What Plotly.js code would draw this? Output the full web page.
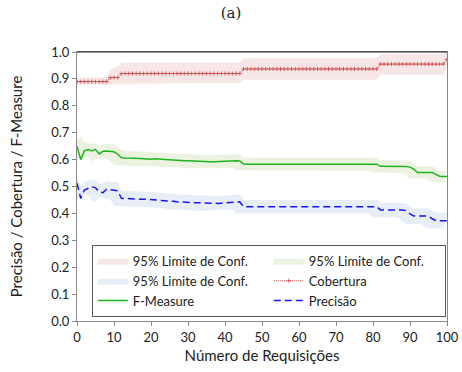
<!DOCTYPE html>
<html>
<head>
<meta charset="utf-8">
<script src="https://cdn.plot.ly/plotly-3.0.1.min.js"></script>
<style>html,body{margin:0;padding:0;background:#fff;}#chart{width:462px;height:372px;}</style>
</head>
<body>
<div id="chart"></div>
<script>
const reqs = [0,1,2,3,4,5,6,7,8,9,10,11,12,13,14,15,16,17,18,19,20,21,22,23,24,25,26,27,28,29,30,31,32,33,34,35,36,37,38,39,40,41,42,43,44,45,46,47,48,49,50,51,52,53,54,55,56,57,58,59,60,61,62,63,64,65,66,67,68,69,70,71,72,73,74,75,76,77,78,79,80,81,82,83,84,85,86,87,88,89,90,91,92,93,94,95,96,97,98,99,100];

const cobertura = [0.89,0.89,0.89,0.89,0.89,0.89,0.89,0.89,0.89,0.905,0.905,0.905,
0.92,0.92,0.92,0.92,0.92,0.92,0.92,0.92,0.92,0.92,0.92,0.92,0.92,0.92,0.92,0.92,0.92,0.92,0.92,0.92,0.92,0.92,0.92,0.92,0.92,0.92,0.92,0.92,0.92,0.92,0.92,0.92,0.92,
0.937,0.937,0.937,0.937,0.937,0.937,0.937,0.937,0.937,0.937,0.937,0.937,0.937,0.937,0.937,0.937,0.937,0.937,0.937,0.937,0.937,0.937,0.937,0.937,0.937,0.937,0.937,0.937,0.937,0.937,0.937,0.937,0.937,0.937,0.937,0.937,0.937,
0.955,0.955,0.955,0.955,0.955,0.955,0.955,0.955,0.955,0.955,0.955,0.955,0.955,0.955,0.955,0.955,0.955,0.955,0.972];

const coberturaUpper = [0.905,0.905,0.905,0.905,0.905,0.905,0.905,0.905,0.905,0.935,0.94,0.945,
0.96,0.96,0.96,0.96,0.96,0.96,0.96,0.96,0.96,0.96,0.96,0.96,0.96,0.96,0.96,0.96,0.96,0.96,0.96,0.96,0.96,0.96,0.96,0.96,0.96,0.96,0.96,0.96,0.96,0.96,0.96,0.96,0.96,
0.977,0.977,0.977,0.977,0.977,0.977,0.977,0.977,0.977,0.977,0.977,0.977,0.977,0.977,0.977,0.977,0.977,0.977,0.977,0.977,0.977,0.977,0.977,0.977,0.977,0.977,0.977,0.977,0.977,0.977,0.977,0.977,0.977,0.977,0.977,0.977,0.977,
0.993,0.993,0.993,0.993,0.993,0.993,0.993,0.993,0.993,0.993,0.993,0.993,0.993,0.993,0.993,0.993,0.993,0.993,1.0];

const coberturaLower = [0.878,0.878,0.878,0.878,0.878,0.878,0.878,0.878,0.878,0.878,0.88,0.882,
0.884,0.884,0.884,0.884,0.884,0.884,0.884,0.884,0.884,0.884,0.884,0.884,0.884,0.884,0.884,0.884,0.884,0.884,0.884,0.884,0.884,0.884,0.884,0.884,0.884,0.884,0.884,0.884,0.884,0.884,0.884,0.884,0.884,
0.897,0.897,0.897,0.897,0.897,0.897,0.897,0.897,0.897,0.897,0.897,0.897,0.897,0.897,0.897,0.897,0.897,0.897,0.897,0.897,0.897,0.897,0.897,0.897,0.897,0.897,0.897,0.897,0.897,0.897,0.897,0.897,0.897,0.897,0.897,0.897,0.897,
0.915,0.915,0.915,0.915,0.915,0.915,0.915,0.915,0.915,0.915,0.915,0.915,0.915,0.915,0.915,0.915,0.915,0.915,0.94];

const fmeasure = [0.650,0.600,0.633,0.637,0.632,0.638,0.621,0.631,0.632,0.630,0.629,0.620,
0.607,0.606,0.606,0.605,0.605,0.604,0.603,0.602,0.601,0.603,0.602,0.600,0.600,0.599,0.598,0.597,0.597,0.596,0.596,0.595,0.594,0.593,0.593,0.592,0.592,0.592,0.593,0.594,0.594,0.594,0.595,0.596,0.595,
0.584,0.583,0.583,0.583,0.583,0.583,0.583,0.583,0.583,0.583,0.583,0.583,0.583,0.583,0.584,0.585,0.585,0.585,0.585,0.584,0.584,0.583,0.583,0.583,0.583,0.583,0.583,0.583,0.583,0.583,0.583,0.583,0.583,0.583,0.583,0.583,0.583,
0.575,0.575,0.575,0.575,0.575,0.575,0.574,0.574,0.572,0.565,0.552,0.552,0.552,0.552,0.552,0.545,0.538,0.537,0.537,0.537];

const fmeasureUpper = [0.670,0.685,0.665,0.662,0.658,0.660,0.652,0.656,0.658,0.657,0.656,0.648,
0.636,0.634,0.633,0.632,0.631,0.630,0.629,0.628,0.627,0.628,0.627,0.625,0.625,0.624,0.623,0.622,0.622,0.621,0.621,0.620,0.619,0.618,0.618,0.617,0.617,0.617,0.618,0.619,0.619,0.619,0.620,0.621,0.620,
0.608,0.607,0.607,0.607,0.607,0.607,0.607,0.607,0.607,0.607,0.607,0.607,0.607,0.607,0.608,0.609,0.609,0.609,0.609,0.608,0.608,0.607,0.607,0.607,0.607,0.607,0.607,0.607,0.607,0.607,0.607,0.607,0.607,0.607,0.607,0.607,0.607,
0.598,0.598,0.598,0.598,0.598,0.598,0.597,0.597,0.595,0.588,0.575,0.575,0.575,0.575,0.575,0.567,0.560,0.559,0.559,0.559];

const fmeasureLower = [0.625,0.569,0.600,0.610,0.605,0.612,0.592,0.604,0.606,0.604,0.603,0.594,
0.580,0.579,0.579,0.578,0.578,0.577,0.576,0.575,0.574,0.576,0.575,0.574,0.574,0.573,0.572,0.571,0.571,0.570,0.570,0.569,0.568,0.567,0.567,0.566,0.566,0.566,0.567,0.568,0.568,0.568,0.569,0.570,0.569,
0.560,0.559,0.559,0.559,0.559,0.559,0.559,0.559,0.559,0.559,0.559,0.559,0.559,0.559,0.560,0.561,0.561,0.561,0.561,0.560,0.560,0.559,0.559,0.559,0.559,0.559,0.559,0.559,0.559,0.559,0.559,0.559,0.559,0.559,0.559,0.559,0.559,
0.552,0.552,0.552,0.552,0.552,0.552,0.551,0.551,0.549,0.542,0.530,0.530,0.530,0.530,0.530,0.523,0.517,0.516,0.516,0.516];

const precisao = [0.512,0.456,0.487,0.493,0.499,0.495,0.480,0.477,0.490,0.488,0.485,0.484,
0.456,0.455,0.454,0.454,0.453,0.453,0.453,0.452,0.452,0.451,0.450,0.450,0.449,0.447,0.445,0.443,0.442,0.442,0.441,0.441,0.440,0.440,0.439,0.438,0.437,0.437,0.437,0.438,0.439,0.440,0.441,0.442,0.443,
0.425,0.425,0.425,0.425,0.425,0.425,0.425,0.425,0.425,0.425,0.425,0.425,0.425,0.425,0.425,0.425,0.425,0.425,0.425,0.425,0.425,0.425,0.425,0.425,0.425,0.425,0.425,0.425,0.425,0.425,0.425,0.425,0.425,0.425,0.425,0.425,0.425,
0.413,0.413,0.413,0.413,0.413,0.413,0.413,0.410,0.398,0.390,0.390,0.390,0.390,0.390,0.380,0.373,0.373,0.373,0.373,0.373];

const precisaoUpper = [0.535,0.500,0.518,0.522,0.526,0.523,0.512,0.510,0.520,0.519,0.517,0.516,
0.484,0.483,0.482,0.482,0.481,0.481,0.481,0.480,0.480,0.479,0.478,0.478,0.477,0.475,0.473,0.471,0.470,0.470,0.469,0.469,0.468,0.468,0.467,0.466,0.465,0.465,0.465,0.466,0.467,0.468,0.469,0.470,0.471,
0.450,0.450,0.450,0.450,0.450,0.450,0.450,0.450,0.450,0.450,0.450,0.450,0.450,0.450,0.450,0.450,0.450,0.450,0.450,0.450,0.450,0.450,0.450,0.450,0.450,0.450,0.450,0.450,0.450,0.450,0.450,0.450,0.450,0.450,0.450,0.450,0.450,
0.440,0.440,0.440,0.440,0.440,0.440,0.440,0.437,0.426,0.419,0.419,0.419,0.419,0.419,0.409,0.402,0.402,0.402,0.402,0.402];

const precisaoLower = [0.488,0.413,0.455,0.463,0.470,0.467,0.449,0.445,0.460,0.458,0.454,0.452,
0.428,0.427,0.426,0.426,0.425,0.425,0.425,0.424,0.424,0.423,0.422,0.422,0.421,0.419,0.417,0.415,0.414,0.414,0.413,0.413,0.412,0.412,0.411,0.410,0.409,0.409,0.409,0.410,0.411,0.412,0.413,0.414,0.415,
0.400,0.400,0.400,0.400,0.400,0.400,0.400,0.400,0.400,0.400,0.400,0.400,0.400,0.400,0.400,0.400,0.400,0.400,0.400,0.400,0.400,0.400,0.400,0.400,0.400,0.400,0.400,0.400,0.400,0.400,0.400,0.400,0.400,0.400,0.400,0.400,0.400,
0.386,0.386,0.386,0.386,0.386,0.386,0.386,0.383,0.370,0.361,0.361,0.361,0.361,0.361,0.351,0.344,0.344,0.344,0.344,0.344];

const xTicks = [0,10,20,30,40,50,60,70,80,90,100];
const yTicks = [0,0.1,0.2,0.3,0.4,0.5,0.6,0.7,0.8,0.9,1.0];
const bandLabel = '95% Limite de Conf.';

function band(upper, lower, color) {
  return {
    x: reqs.concat(reqs.slice().reverse()),
    y: upper.concat(lower.slice().reverse()),
    type: 'scatter', mode: 'lines', fill: 'toself',
    fillcolor: color, line: {width: 0, color: color},
    name: bandLabel, hoverinfo: 'skip'
  };
}

const traces = [
  band(coberturaUpper, coberturaLower, '#f6e6e6'),
  band(fmeasureUpper, fmeasureLower, '#ecf2e0'),
  band(precisaoUpper, precisaoLower, '#e8eef8'),
  {x: reqs, y: cobertura, type: 'scatter', mode: 'lines+markers', name: 'Cobertura',
   line: {color: '#d04545', width: 1, dash: '1px,1px'},
   marker: {symbol: 'cross-thin-open', size: 3, color: '#d04545', line: {color: '#d04545', width: 0.8}}},
  {x: reqs, y: fmeasure, type: 'scatter', mode: 'lines', name: 'F-Measure',
   line: {color: '#1fb51f', width: 1.5}},
  {x: reqs, y: precisao, type: 'scatter', mode: 'lines', name: 'Precisão',
   line: {color: '#1515f5', width: 1.5, dash: '7px,4px'}}
];

const layout = {
  width: 462, height: 372,
  margin: {l: 77, r: 15, t: 52, b: 51},
  paper_bgcolor: '#fff', plot_bgcolor: '#fff',
  font: {family: 'Lato, "Open Sans", sans-serif', size: 13, color: '#222'},
  title: {text: '(a)', font: {family: '"DejaVu Serif", "Liberation Serif", serif', size: 15, color: '#222'},
          x: 0.5, xanchor: 'center', y: 0.965, yanchor: 'middle'},
  showlegend: true,
  legend: {orientation: 'h', x: 0.04, xanchor: 'left', y: 0.283, yanchor: 'top',
           bgcolor: '#fff', bordercolor: '#555', borderwidth: 1,
           font: {size: 13, color: '#222'}, entrywidth: 131, entrywidthmode: 'pixels',
           traceorder: 'normal', tracegroupgap: 0},
  xaxis: {range: [0, 100], tickvals: xTicks, ticktext: xTicks.map(String),
          ticks: 'outside', ticklen: 4, tickcolor: '#888', showgrid: false, zeroline: false,
          showline: true, linecolor: '#888', mirror: true,
          title: {text: 'Número de Requisições', font: {size: 15}, standoff: 6},
          tickfont: {size: 13}},
  yaxis: {range: [0, 1], tickvals: yTicks, ticktext: yTicks.map(v => v.toFixed(1)),
          ticks: 'outside', ticklen: 4, tickcolor: '#888', showgrid: false, zeroline: false,
          showline: true, linecolor: '#888', mirror: true,
          title: {text: 'Precisão / Cobertura / F-Measure', font: {size: 15}, standoff: 24},
          tickfont: {size: 13}},
  shapes: [{type: 'line', xref: 'paper', yref: 'paper', x0: 0, x1: 1, y0: 1, y1: 1,
            line: {color: '#222', width: 1}}]
};

Plotly.newPlot('chart', traces, layout, {displayModeBar: false, staticPlot: true});
</script>
</body>
</html>
